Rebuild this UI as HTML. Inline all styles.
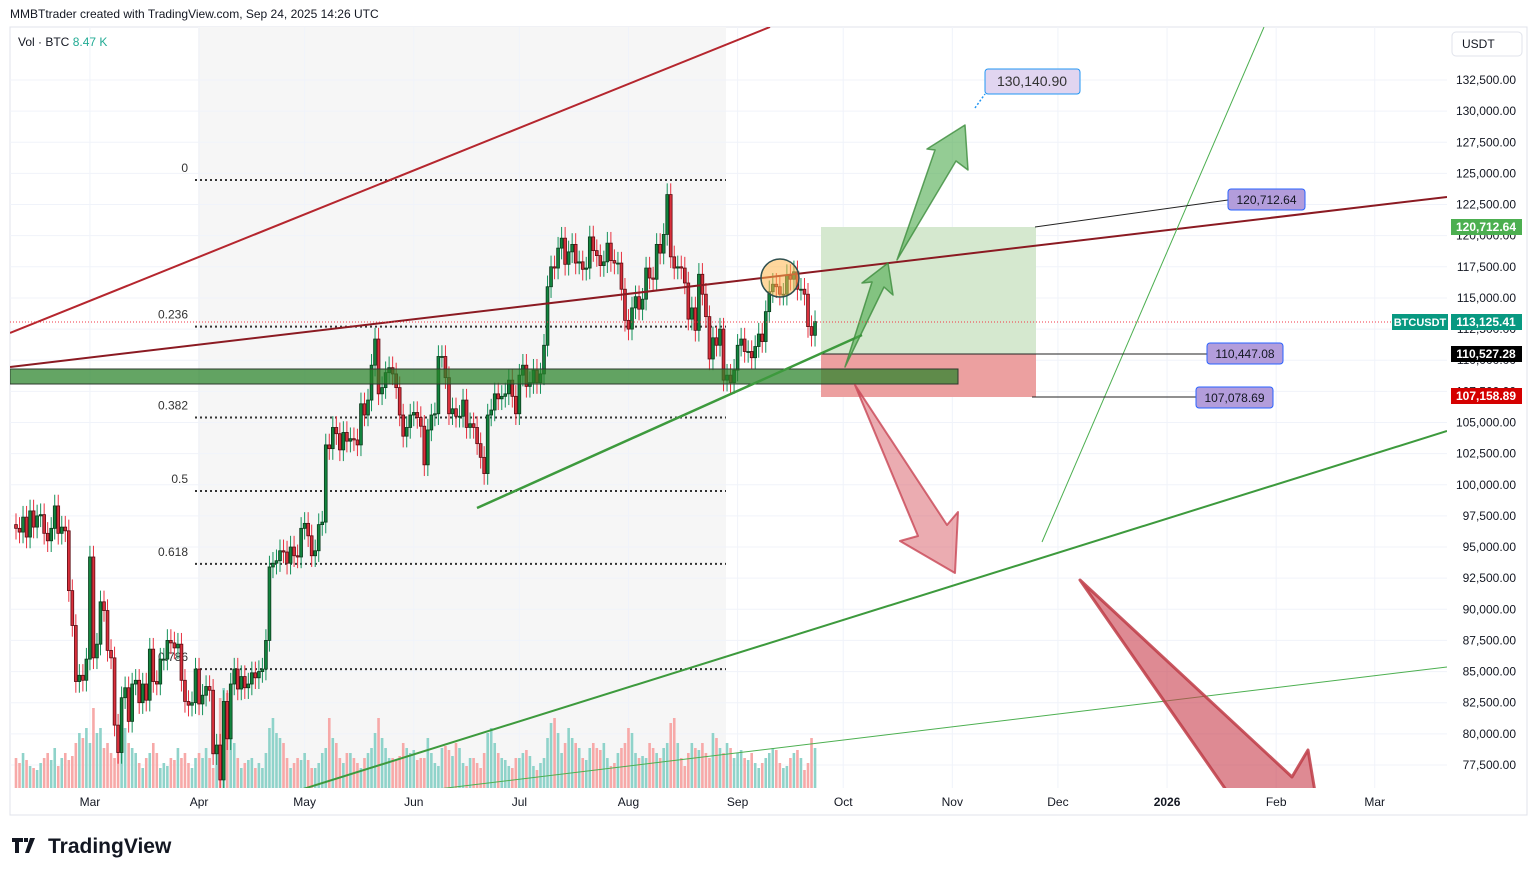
<!DOCTYPE html>
<html><head><meta charset="utf-8"><style>
body{margin:0;background:#fff;font-family:"Liberation Sans",sans-serif}
svg{display:block}
text{font-family:"Liberation Sans",sans-serif}
</style></head><body>
<svg id="c" width="1536" height="876" viewBox="0 0 1536 876">
<defs><clipPath id="clip"><rect x="10" y="27" width="1437" height="761"/></clipPath></defs>
<rect x="0" y="0" width="1536" height="876" fill="#fff"/>
<text x="10" y="18" font-size="12" fill="#131722">MMBTtrader created with TradingView.com, Sep 24, 2025 14:26 UTC</text>
<rect x="10" y="27" width="1517" height="788" fill="none" stroke="#e0e3eb"/>
<rect x="198" y="27" width="528" height="761" fill="#f6f6f6"/>
<g id="grid"></g>
<g id="fib"></g>
<g clip-path="url(#clip)">
<g id="vol"></g>
<g id="draw1"></g>
<g id="candles"></g>
<g id="draw2"></g>
</g>
<g id="axis"></g>
<text x="18" y="46" font-size="12" fill="#131722">Vol · BTC <tspan fill="#22ab94">8.47 K</tspan></text>
<rect x="1452" y="32" width="70" height="24" rx="4" fill="#fff" stroke="#e0e3eb"/>
<text x="1462" y="48" font-size="12" fill="#131722">USDT</text>
<g>
<path d="M12 838h11v4h-4v11h-4v-11h-3z M24 838h4v4h-4z M30 838h5l-6 15h-4z" fill="#131722"/>
<text x="48" y="853" font-size="21" font-weight="bold" fill="#131722">TradingView</text>
</g>
</svg>
<script>
const closes=[96.5,96.2,97.4,95.8,97.9,96.6,97.5,97.6,96.1,95.5,96.5,98.3,96.1,96.6,96.3,91.5,88.7,84.2,84.7,84.3,86.0,
94.2,86.1,87.2,90.6,89.9,86.7,86.1,80.7,78.5,82.9,83.7,81.0,84.0,84.3,82.5,84.0,82.7,86.8,84.2,84.0,86.0,86.0,87.5,87.3,86.9,87.2,84.3,82.6,82.3,82.5,
85.2,82.4,83.1,83.8,83.5,78.4,79.1,76.3,82.6,79.6,84.0,85.2,83.6,84.6,83.7,84.0,84.9,84.5,85.0,85.2,87.5,93.4,93.7,93.9,94.7,94.6,93.7,95.0,94.3,94.2,
96.5,96.9,95.9,94.3,94.7,96.8,97.0,103.2,102.9,104.6,104.1,102.8,104.2,103.5,103.7,103.6,103.2,106.5,105.6,106.8,109.6,111.7,107.3,107.8,109.0,109.4,108.9,107.8,105.6,103.9,104.6,
105.6,105.8,105.4,104.7,101.6,104.4,105.6,105.7,110.3,110.3,108.6,105.7,106.1,105.5,105.5,106.8,104.6,104.9,104.6,103.3,102.2,100.9,105.6,106.0,107.3,106.9,107.1,107.3,108.4,107.1,
105.7,108.8,109.6,107.9,108.2,109.2,108.2,108.9,111.2,115.9,117.5,117.4,119.0,119.8,117.7,118.7,119.3,117.8,117.9,117.3,117.4,119.9,118.8,118.4,117.6,117.9,119.4,118.0,117.8,117.8,115.7,
113.2,112.5,114.2,115.1,114.1,114.9,117.4,116.6,116.5,119.3,118.6,120.1,123.3,118.3,117.4,117.5,117.4,116.2,113.3,114.2,112.4,116.9,115.3,113.5,110.1,111.8,111.2,112.5,108.4,108.8,108.2,
109.2,111.2,111.7,110.7,110.7,110.2,111.1,112.1,111.5,113.9,115.5,116.1,115.9,115.3,115.3,116.8,116.5,117.1,115.7,115.7,115.3,112.7,112.0,113.1];
const volumes=[30,25,35,28,22,20,18,25,30,35,28,40,22,30,35,28,32,45,55,50,60,
45,80,55,60,40,45,35,30,55,65,60,45,40,35,25,20,30,35,45,35,20,25,22,30,28,40,30,35,25,20,30,
35,30,40,30,20,40,90,100,95,80,45,30,20,25,28,30,20,25,20,35,60,70,55,50,45,30,20,25,30,28,
35,28,20,20,25,35,40,70,50,45,30,25,35,35,30,25,20,30,35,40,55,70,50,40,30,30,28,32,45,40,35,
38,28,30,30,50,35,25,22,40,42,38,32,45,40,25,22,30,30,25,20,35,55,60,45,35,30,28,22,20,30,
30,35,38,32,22,18,25,30,50,65,70,55,35,45,60,50,45,40,30,28,40,45,40,38,45,30,22,25,35,40,45,
60,55,35,30,32,30,45,40,35,30,40,45,65,70,45,30,22,35,45,40,38,45,35,30,55,50,40,35,45,40,30,
35,38,30,28,35,25,20,25,30,35,40,38,25,20,22,30,35,38,30,18,25,50,40,28];
const priceTicks=[132500,130000,127500,125000,122500,120000,117500,115000,112500,110000,107500,105000,102500,100000,97500,95000,92500,90000,87500,85000,82500,80000,77500];
const timeLabels=["Mar","Apr","May","Jun","Jul","Aug","Sep","Oct","Nov","Dec","2026","Feb","Mar"];
const timeDays=[21,52,82,113,143,174,205,235,266,296,327,358,386];
const fibLevels=["0","0.236","0.382","0.5","0.618","0.786"];
const fibPrices=[124470,112700,105400,99500,93650,85200];

const NS="http://www.w3.org/2000/svg";
const Y=p=>80+(132500-p)*0.012454;
const X=d=>16+d*3.52;
function mk(parent,tag,attrs){const e=document.createElementNS(NS,tag);for(const k in attrs)e.setAttribute(k,attrs[k]);document.getElementById(parent).appendChild(e);return e;}

priceTicks.forEach(p=>{
 const l=mk('grid','line',{x1:10,x2:1447,y1:Y(p),y2:Y(p),stroke:'#f0f3fa'});
 
 
 const t=mk('axis','text',{x:1516,y:Y(p)+4,'font-size':12,fill:'#131722','text-anchor':'end'});
 t.textContent=p.toLocaleString('en-US')+'.00';
 
 
});
timeDays.forEach((d,i)=>{
 const l=mk('grid','line',{x1:X(d),x2:X(d),y1:27,y2:788,stroke:'#f0f3fa'});
 
 
 const t=mk('axis','text',{x:X(d),y:806,'font-size':12,fill:'#131722','text-anchor':'middle','font-weight':timeLabels[i]==='2026'?'bold':'normal'});
 t.textContent=timeLabels[i];
 
 
});
fibLevels.forEach((lv,i)=>{
 const y=Y(fibPrices[i]);
 const l=mk('fib','line',{x1:195,x2:726,y1:y,y2:y,stroke:'#333','stroke-width':2,'stroke-dasharray':'2 3'});
 
 
 const t=mk('fib','text',{x:188,y:y-8,'font-size':12,fill:'#333','text-anchor':'end'});
 t.textContent=lv;
 
 
});
for(let i=0;i<closes.length;i++){
 const c=closes[i]*1000,o=(i?closes[i-1]:closes[0]+0.3)*1000,up=c>=o,x=X(i);
 const vh=volumes[i]*1.0;
 const v=mk('vol','rect',{x:x-1.3,y:788-vh,width:2.6,height:vh,fill:up?'#8fd3ca':'#f7a9a8'});
 
 
 const hi=Math.max(o,c)+900,lo=Math.min(o,c)-900;
 const w=mk('candles','line',{x1:x,x2:x,y1:Y(hi),y2:Y(lo),stroke:up?'#14915a':'#e8303f','stroke-width':1});
 
 
 const top=Y(Math.max(o,c)),h=Math.max(1,Y(Math.min(o,c))-top);
 const b=mk('candles','rect',{x:x-1.4,y:top,width:2.8,height:h,fill:up?'#12843e':'#d9303c',stroke:up?'#0b3b1c':'#5c0b12','stroke-width':0.8});
 
 
}
</script>
<script>
(function(){
const NS="http://www.w3.org/2000/svg";
function add(g,tag,a,name,inter){const e=document.createElementNS(NS,tag);for(const k in a)e.setAttribute(k,a[k]);


document.getElementById(g).appendChild(e);return e;}
add('draw1','rect',{x:821,y:227,width:215,height:127,fill:'#d5e8cf'},'target-zone','true');
add('draw1','rect',{x:821,y:354,width:215,height:43,fill:'#eca0a0'},'stop-zone','true');
add('draw1','line',{x1:821,x2:1036,y1:354,y2:354,stroke:'#222','stroke-width':1},'entry-line','false');
add('draw2','rect',{x:10,y:369,width:948,height:15,fill:'rgba(40,130,40,0.72)',stroke:'#2c3a2c','stroke-width':1},'support-band','true');
add('draw2','line',{x1:10,y1:333,x2:770,y2:27,stroke:'#b5262e','stroke-width':2},'upper-channel-line','true');
add('draw2','line',{x1:10,y1:367,x2:1447,y2:197,stroke:'#8b1a22','stroke-width':2},'resistance-trendline','true');
add('draw2','line',{x1:477,y1:508,x2:862,y2:335,stroke:'#3d9a3d','stroke-width':2.5},'short-support-line','true');
add('draw2','line',{x1:300,y1:790,x2:1447,y2:431,stroke:'#3d9a3d','stroke-width':2},'long-support-line','true');
add('draw2','line',{x1:430,y1:790,x2:1447,y2:667,stroke:'#4caf50','stroke-width':1},'thin-support-line','true');
add('draw2','line',{x1:1042,y1:542,x2:1264,y2:27,stroke:'#4caf50','stroke-width':1},'steep-trendline','true');
add('draw2','polygon',{points:'845,367 872,282 862,283 888,263 893,295 884,287',fill:'rgba(76,170,76,0.6)',stroke:'rgba(60,140,60,0.8)','stroke-width':1.5,'stroke-linejoin':'round'},'small-up-arrow','true');
add('draw2','polygon',{points:'897,260 935,150 927,149 965,125 968,170 956,161',fill:'rgba(76,170,76,0.6)',stroke:'rgba(60,140,60,0.8)','stroke-width':1.5,'stroke-linejoin':'round'},'big-up-arrow','true');
add('draw2','polygon',{points:'855,385 947,525 958,512 955,573 900,541 918,536',fill:'rgba(215,90,100,0.5)',stroke:'rgba(200,70,85,0.8)','stroke-width':2,'stroke-linejoin':'round'},'down-arrow','true');
add('draw2','polygon',{points:'1080,580 1292,777 1308,750 1318,810 1240,810',fill:'rgba(200,60,75,0.6)',stroke:'rgba(190,60,70,0.85)','stroke-width':3,'stroke-linejoin':'round'},'big-down-arrow','true');
add('draw2','circle',{cx:780,cy:278,r:19,fill:'rgba(255,183,77,0.55)',stroke:'#2f4f4f','stroke-width':1.5},'highlight-circle','true');
add('draw2','line',{x1:10,x2:1447,y1:322,y2:322,stroke:'#f23645','stroke-width':1,'stroke-dasharray':'1 2'},'current-price-line','false');
add('draw2','line',{x1:975,y1:108,x2:985,y2:94,stroke:'#2196f3','stroke-width':1.5,'stroke-dasharray':'2 2'},'target-pointer','false');
})();
</script>
<script>
(function(){
const svg=document.getElementById('c');const NS="http://www.w3.org/2000/svg";
function add(tag,a,txt,name,inter){const e=document.createElementNS(NS,tag);for(const k in a)e.setAttribute(k,a[k]);if(txt)e.textContent=txt;


svg.appendChild(e);return e;}
add('line',{x1:1035,y1:227,x2:1228,y2:200,stroke:'#222'},null,'callout-line','false');
add('line',{x1:1032,y1:354,x2:1207,y2:354,stroke:'#222'},null,'callout-line','false');
add('line',{x1:1032,y1:397,x2:1196,y2:397,stroke:'#222'},null,'callout-line','false');
[[1228,189,77,'120,712.64'],[1207,343,76,'110,447.08'],[1196,387,77,'107,078.69']].forEach(b=>{
 add('rect',{x:b[0],y:b[1],width:b[2],height:21,rx:3,fill:'#b39ddb',stroke:'#2962ff'},null,'price-callout','true');
 add('text',{x:b[0]+b[2]/2,y:b[1]+15,'font-size':12,'text-anchor':'middle',fill:'#131722'},b[3],'price-callout-text','false');
});
add('rect',{x:985,y:69,width:95,height:25,rx:3,fill:'#e1d5f0',stroke:'#2196f3'},null,'target-callout','true');
add('text',{x:1032,y:86,'font-size':14,'text-anchor':'middle',fill:'#333'},'130,140.90','target-callout-text','false');
[[227,'#4caf50','120,712.64',null],[322,'#089981','113,125.41','BTCUSDT'],[354,'#000','110,527.28',null],[396,'#d50000','107,158.89',null]].forEach(t=>{
 add('rect',{x:1451,y:t[0]-8,width:71,height:16,fill:t[1]},null,'price-tag','false');
 add('text',{x:1486,y:t[0]+4,'font-size':12,'font-weight':'bold','text-anchor':'middle',fill:'#fff'},t[2],'price-tag-text','false');
 if(t[3]){add('rect',{x:1392,y:t[0]-8,width:56,height:16,fill:t[1]},null,'symbol-tag','false');
 add('text',{x:1420,y:t[0]+4,'font-size':11,'font-weight':'bold','text-anchor':'middle',fill:'#fff'},t[3],'symbol-tag-text','false');}
});
})();
</script>
</body></html>
